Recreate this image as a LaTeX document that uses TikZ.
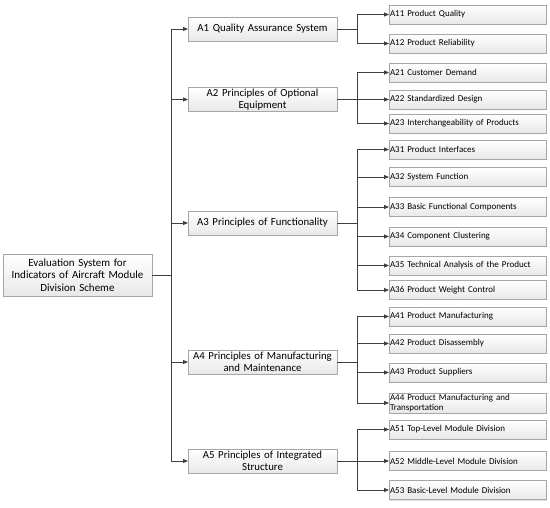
\documentclass[tikz,border=0pt]{standalone}
\usepackage{fontspec}
\setmainfont{Carlito}
\usetikzlibrary{arrows.meta,shadows}
\definecolor{lnc}{HTML}{3F3F3F}
\definecolor{bdc}{HTML}{A6A6A6}
\tikzset{
  boxbase/.style={draw=bdc, line width=0.8pt, top color=white, bottom color=black!9,
    drop shadow={opacity=0.25, shadow xshift=1pt, shadow yshift=-1pt}, inner sep=1pt, outer sep=0pt},
  rootbox/.style={boxbase, minimum width=149pt, minimum height=42pt, text width=147pt, align=center,
    font=\fontsize{11}{12.5}\selectfont},
  lonebox/.style={boxbase, minimum width=149pt, minimum height=24pt, text width=147pt, align=center,
    font=\fontsize{10.8}{12}\selectfont},
  ltwobox/.style={boxbase, minimum width=157pt, minimum height=19pt, text width=155pt, align=left,
    inner xsep=1pt, font=\fontsize{9}{9.5}\selectfont},
  conn/.style={draw=lnc, line width=0.8pt},
  arr/.style={conn, -{Triangle[length=5pt,width=4pt]}},
}
\begin{document}
\begin{tikzpicture}[x=1pt,y=-1pt]
\useasboundingbox (0,0) rectangle (550,508);
% root
\node[rootbox] (root) at (77.5,275) {Evaluation System for\\Indicators of Aircraft Module\\Division Scheme};
% level 1
\node[lonebox] (A1) at (262.5,29) {A1 Quality Assurance System};
\node[lonebox] (A2) at (262.5,99.5) {A2 Principles of Optional\\Equipment};
\node[lonebox] (A3) at (262.5,223) {A3 Principles of Functionality};
\node[lonebox] (A4) at (262.5,362) {A4 Principles of Manufacturing\\and Maintenance};
\node[lonebox] (A5) at (262.5,461) {A5 Principles of Integrated\\Structure};
% level 2
\node[ltwobox] (A11) at (467.5,14.5) {A11 Product Quality};
\node[ltwobox] (A12) at (467.5,43.5) {A12 Product Reliability};
\node[ltwobox] (A21) at (467.5,72.5) {A21 Customer Demand};
\node[ltwobox] (A22) at (467.5,99.5) {A22 Standardized Design};
\node[ltwobox] (A23) at (467.5,123.5) {A23 Interchangeability of Products};
\node[ltwobox] (A31) at (467.5,149.5) {A31 Product Interfaces};
\node[ltwobox] (A32) at (467.5,177) {A32 System Function};
\node[ltwobox] (A33) at (467.5,207) {A33 Basic Functional Components};
\node[ltwobox] (A34) at (467.5,236.5) {A34 Component Clustering};
\node[ltwobox] (A35) at (467.5,265.5) {A35 Technical Analysis of the Product};
\node[ltwobox] (A36) at (467.5,290) {A36 Product Weight Control};
\node[ltwobox] (A41) at (467.5,316.5) {A41 Product Manufacturing};
\node[ltwobox] (A42) at (467.5,343.5) {A42 Product Disassembly};
\node[ltwobox] (A43) at (467.5,372.5) {A43 Product Suppliers};
\node[ltwobox, minimum height=20pt] (A44) at (467.5,403) {A44 Product Manufacturing and\\Transportation};
\node[ltwobox] (A51) at (467.5,429.5) {A51 Top-Level Module Division};
\node[ltwobox] (A52) at (467.5,461) {A52 Middle-Level Module Division};
\node[ltwobox] (A53) at (467.5,490) {A53 Basic-Level Module Division};
% trunk
\draw[conn] (root.east) -- ++(19,0) coordinate (t);
\draw[conn] (t |- A1.west) -- (t |- A5.west);
\foreach \n in {A1,A2,A3,A4,A5}{
  \draw[arr] (t |- \n.west) -- (\n.west);
}
% brackets
\foreach \p/\first/\last/\kids in {A1/A11/A12/{A11,A12}, A2/A21/A23/{A21,A22,A23},
  A3/A31/A36/{A31,A32,A33,A34,A35,A36}, A4/A41/A44/{A41,A42,A43,A44}, A5/A51/A53/{A51,A52,A53}}{
  \draw[conn] (\p.east) -- ++(20,0) coordinate (b);
  \draw[conn] (b |- \first.west) -- (b |- \last.west);
  \foreach \k in \kids {
    \draw[arr] (b |- \k.west) -- (\k.west);
  }
}
\end{tikzpicture}
\end{document}
